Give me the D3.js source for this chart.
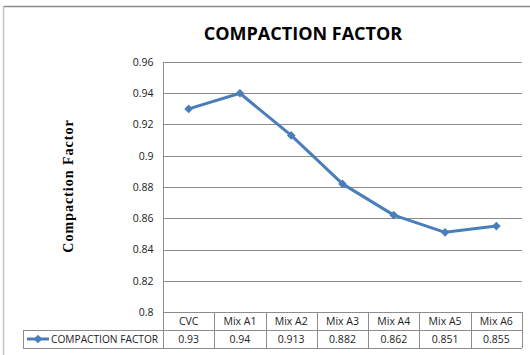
<!DOCTYPE html>
<html>
<head>
<meta charset="utf-8">
<script src="https://cdn.jsdelivr.net/npm/d3@7"></script>
<style>
  html, body { margin: 0; padding: 0; background: #fff; }
  svg { display: block; }
</style>
</head>
<body>
<svg id="chart" width="530" height="355"></svg>
<script>
// Compaction factor per mix
const categories = ["CVC", "Mix A1", "Mix A2", "Mix A3", "Mix A4", "Mix A5", "Mix A6"];
const values = [0.93, 0.94, 0.913, 0.882, 0.862, 0.851, 0.855];
const yTicks = [0.8, 0.82, 0.84, 0.86, 0.88, 0.9, 0.92, 0.94, 0.96];
const yTickLabels = ["0.8", "0.82", "0.84", "0.86", "0.88", "0.9", "0.92", "0.94", "0.96"];
const seriesName = "COMPACTION FACTOR";
const chartTitle = "COMPACTION FACTOR";
const yAxisTitle = "Compaction Factor";

(function draw() {
const svg = d3.select("#chart");
const uiFont = "'Open Sans', 'Liberation Sans', sans-serif";
const blue = "#4A7EBB";
const grid = "#8c8c8c";

const plotLeft = 163, plotRight = 522, plotTop = 62, plotBottom = 312;
const rowH = 18;

// Outer chart frame
svg.append("line").attr("x1", 3.5).attr("x2", 530).attr("y1", 6.5).attr("y2", 6.5)
  .attr("stroke", "#8a8a8a").attr("stroke-width", 1.5);
svg.append("line").attr("x1", 3.5).attr("x2", 3.5).attr("y1", 6).attr("y2", 355)
  .attr("stroke", "#c4c4c4").attr("stroke-width", 1.5);

const x = d3.scaleBand().domain(categories).range([plotLeft, plotRight]);
const y = d3.scaleLinear().domain([0.8, 0.96]).range([plotBottom, plotTop]);

// Horizontal gridlines
svg.append("g").selectAll("line").data(yTicks.filter(t => t > 0.8)).join("line")
  .attr("x1", plotLeft).attr("x2", plotRight)
  .attr("y1", d => Math.round(y(d)) + 0.5).attr("y2", d => Math.round(y(d)) + 0.5)
  .attr("stroke", grid).attr("stroke-width", 1);

// Y axis
const yAxis = d3.axisLeft(y).tickValues(yTicks)
  .tickFormat((d, i) => yTickLabels[i]).tickSize(0).tickPadding(10);
const yg = svg.append("g").attr("transform", `translate(${plotLeft + 0.5},0)`).call(yAxis);
yg.select(".domain").remove();
yg.selectAll("text").attr("font-family", uiFont).attr("font-size", 10.5).attr("fill", "#222");

// Axis line down through the table header
svg.append("line").attr("x1", plotLeft + 0.5).attr("x2", plotLeft + 0.5)
  .attr("y1", plotTop).attr("y2", plotBottom + 2 * rowH)
  .attr("stroke", grid);

// Data table
const tableG = svg.append("g");
const tLeft = 23;
tableG.append("line").attr("x1", plotLeft).attr("x2", plotRight)
  .attr("y1", plotBottom + 0.5).attr("y2", plotBottom + 0.5).attr("stroke", grid);
tableG.append("line").attr("x1", tLeft).attr("x2", plotRight)
  .attr("y1", plotBottom + rowH + 0.5).attr("y2", plotBottom + rowH + 0.5).attr("stroke", grid);
tableG.append("line").attr("x1", tLeft).attr("x2", plotRight)
  .attr("y1", plotBottom + 2 * rowH + 0.5).attr("y2", plotBottom + 2 * rowH + 0.5).attr("stroke", grid);
tableG.append("line").attr("x1", tLeft + 0.5).attr("x2", tLeft + 0.5)
  .attr("y1", plotBottom + rowH).attr("y2", plotBottom + 2 * rowH).attr("stroke", grid);
tableG.selectAll("line.col").data(categories).join("line").attr("class", "col")
  .attr("x1", d => Math.round(x(d) + x.bandwidth()) + 0.5)
  .attr("x2", d => Math.round(x(d) + x.bandwidth()) + 0.5)
  .attr("y1", plotBottom).attr("y2", plotBottom + 2 * rowH).attr("stroke", grid);

tableG.selectAll("text.cat").data(categories).join("text").attr("class", "cat")
  .attr("x", d => x(d) + x.bandwidth() / 2).attr("y", plotBottom + rowH / 2 + 4)
  .attr("text-anchor", "middle").attr("font-family", uiFont).attr("font-size", 10.5)
  .attr("fill", "#222").text(d => d);
tableG.selectAll("text.val").data(values).join("text").attr("class", "val")
  .attr("x", (d, i) => x(categories[i]) + x.bandwidth() / 2).attr("y", plotBottom + rowH * 1.5 + 4)
  .attr("text-anchor", "middle").attr("font-family", uiFont).attr("font-size", 10.5)
  .attr("fill", "#222").text(d => String(d));

// Legend key inside the table
const diamond = d3.symbol().type(d3.symbolDiamond2).size(48);
const ly = plotBottom + rowH * 1.5;
tableG.append("line").attr("x1", 27).attr("x2", 49).attr("y1", ly).attr("y2", ly)
  .attr("stroke", blue).attr("stroke-width", 3);
tableG.append("path").attr("d", diamond).attr("transform", `translate(38,${ly})`).attr("fill", blue);
tableG.append("text").attr("x", 51).attr("y", ly + 4)
  .attr("font-family", uiFont).attr("font-size", 10.2).attr("fill", "#222").text(seriesName);

// Series line and markers
const line = d3.line().x((d, i) => x(categories[i]) + x.bandwidth() / 2).y(d => y(d));
svg.append("path").datum(values).attr("d", line)
  .attr("fill", "none").attr("stroke", blue).attr("stroke-width", 3)
  .attr("stroke-linejoin", "round");
svg.append("g").selectAll("path").data(values).join("path")
  .attr("d", diamond)
  .attr("transform", (d, i) => `translate(${x(categories[i]) + x.bandwidth() / 2},${y(d)})`)
  .attr("fill", blue);

// Titles
svg.append("text").attr("x", 303).attr("y", 40).attr("text-anchor", "middle")
  .attr("font-family", uiFont).attr("font-weight", "bold").attr("font-size", 18)
  .attr("fill", "#000").text(chartTitle);
svg.append("text").attr("transform", "translate(73,186) rotate(-90)")
  .attr("text-anchor", "middle").attr("font-family", "'Liberation Serif', serif")
  .attr("font-weight", "bold").attr("font-size", 14).attr("letter-spacing", 1)
  .attr("fill", "#000").text(yAxisTitle);
})();
</script>
</body>
</html>
